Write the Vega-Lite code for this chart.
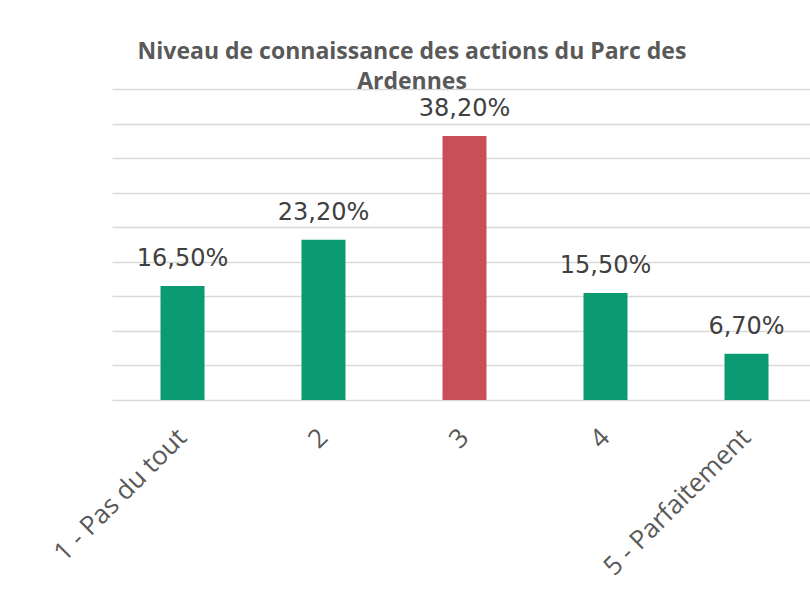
{
  "$schema": "https://vega.github.io/schema/vega-lite/v6.json",
  "autosize": "none",
  "width": 698,
  "height": 311,
  "padding": {"left": 112, "top": 89, "right": 0, "bottom": 212},
  "background": "white",
  "title": {
    "text": ["Niveau de connaissance des actions du Parc des", "Ardennes"],
    "font": "Open Sans",
    "fontSize": 23,
    "fontWeight": "bold",
    "color": "#595959",
    "lineHeight": 30,
    "anchor": "middle",
    "dx": -49,
    "dy": 28,
    "offset": 0,
    "baseline": "bottom"
  },
  "data": {
    "values": [
      {"categorie": "1 - Pas du tout", "valeur": 16.5, "etiquette": "16,50%", "groupe": "autre"},
      {"categorie": "2", "valeur": 23.2, "etiquette": "23,20%", "groupe": "autre"},
      {"categorie": "3", "valeur": 38.2, "etiquette": "38,20%", "groupe": "max"},
      {"categorie": "4", "valeur": 15.5, "etiquette": "15,50%", "groupe": "autre"},
      {"categorie": "5 - Parfaitement", "valeur": 6.7, "etiquette": "6,70%", "groupe": "autre"}
    ]
  },
  "encoding": {
    "x": {
      "field": "categorie",
      "type": "nominal",
      "sort": null,
      "scale": {"range": [0, 705], "paddingInner": 0.688, "paddingOuter": 0.344},
      "axis": {
        "title": null,
        "domain": false,
        "ticks": false,
        "labelAngle": -45,
        "labelAlign": "right",
        "labelBaseline": "middle",
        "labelPadding": 33,
        "labelFont": "Open Sans",
        "labelFontSize": 26,
        "labelColor": "#595959",
        "labelOverlap": false,
        "labelLimit": 400
      }
    },
    "y": {
      "field": "valeur",
      "type": "quantitative",
      "scale": {"domain": [0, 45], "nice": false},
      "axis": {
        "title": null,
        "labels": false,
        "ticks": false,
        "domain": false,
        "values": [0, 5, 10, 15, 20, 25, 30, 35, 40, 45],
        "grid": true,
        "gridColor": "#D9D9D9",
        "gridWidth": 1.3
      }
    }
  },
  "layer": [
    {
      "mark": {"type": "bar"},
      "encoding": {
        "color": {
          "field": "groupe",
          "type": "nominal",
          "scale": {"domain": ["autre", "max"], "range": ["#0A9B73", "#C84F57"]},
          "legend": null
        }
      }
    },
    {
      "mark": {
        "type": "text",
        "baseline": "alphabetic",
        "dy": -20,
        "font": "DejaVu Sans",
        "fontSize": 24,
        "color": "#404040"
      },
      "encoding": {"text": {"field": "etiquette"}}
    }
  ],
  "config": {"view": {"stroke": null}}
}
